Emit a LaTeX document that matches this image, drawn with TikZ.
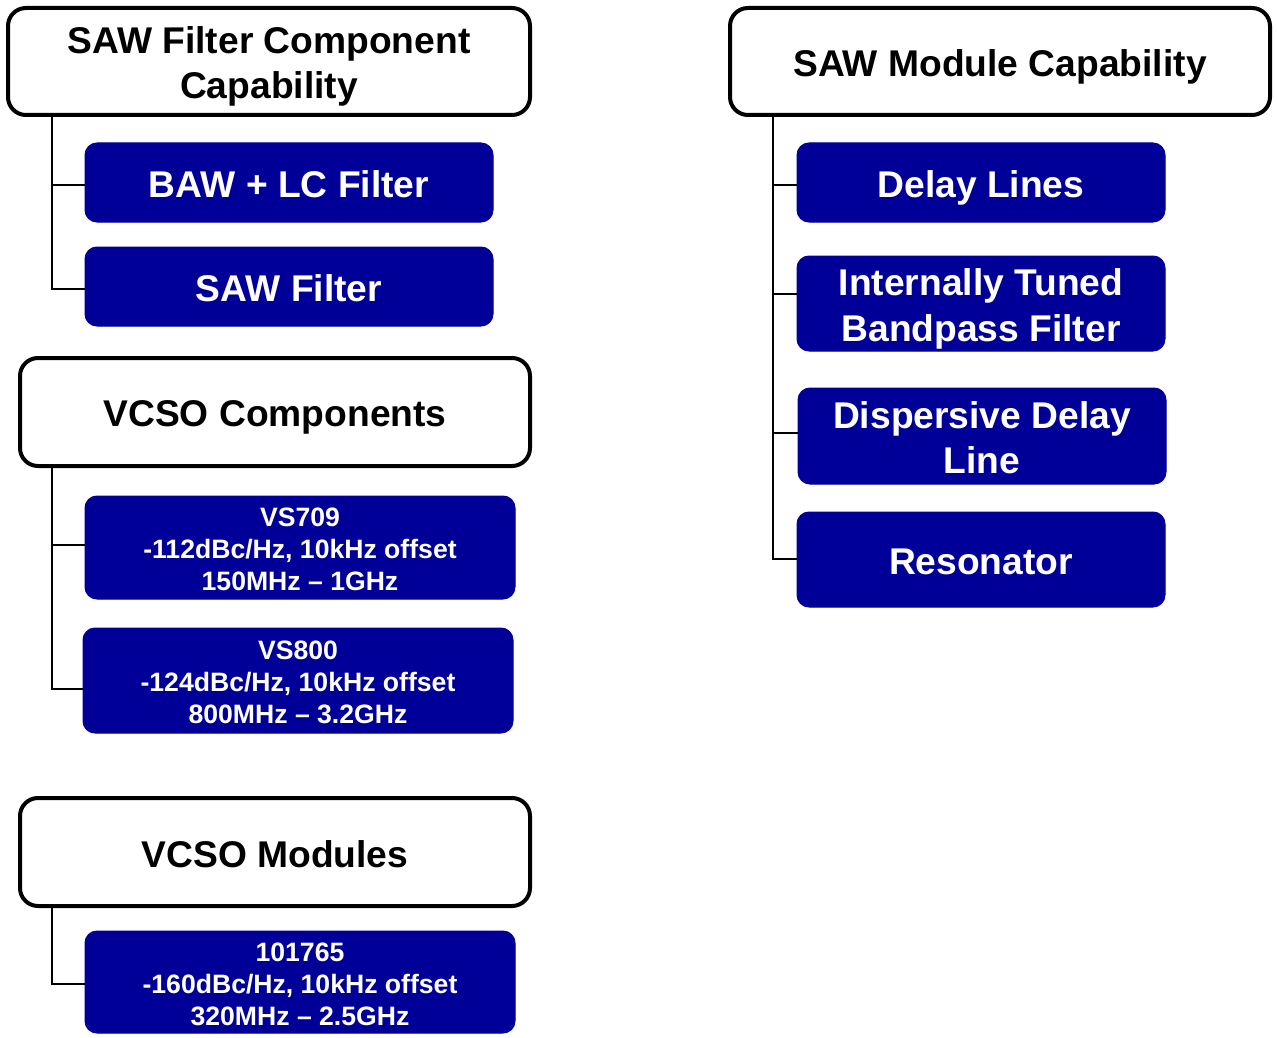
\documentclass[tikz,border=0pt]{standalone}
\usepackage{fontspec}
\setmainfont{Liberation Sans}
\definecolor{boxblue}{RGB}{0,0,153}
\newcommand{\bigstrut}{\rule[-7pt]{0pt}{44pt}}
\newcommand{\smallstrut}{\rule[-5pt]{0pt}{32pt}}
\begin{document}
\begin{tikzpicture}[x=1pt,y=-1pt,
  hdr/.style={draw=black, line width=4pt, fill=white, rounded corners=18pt,
    inner sep=0pt, align=center, font=\fontsize{37.2}{44}\selectfont\bfseries},
  itembox/.style={fill=boxblue, draw=boxblue, line width=1pt, rounded corners=12pt,
    inner sep=0pt, align=center, text=white, font=\fontsize{37.2}{44}\selectfont\bfseries},
  smallbox/.style={itembox, font=\fontsize{26.6}{32}\selectfont\bfseries},
  conn/.style={draw=black, line width=2pt}]
\useasboundingbox (0,0) rectangle (1277,1038);

% Headers
\node[hdr, minimum width=522pt, minimum height=107pt] (h1) at (269,61.5) {\bigstrut SAW Filter Component\\\bigstrut Capability};
\node[hdr, minimum width=540pt, minimum height=107pt] (h2) at (1000,61.5) {\bigstrut SAW Module Capability};
\node[hdr, minimum width=510pt, minimum height=108pt] (h3) at (275,412) {\bigstrut VCSO Components};
\node[hdr, minimum width=510pt, minimum height=108pt] (h4) at (275,852) {\bigstrut VCSO Modules};

% Left items
\node[itembox, minimum width=408pt, minimum height=79pt] (b1) at (289,182.5) {\bigstrut BAW + LC Filter};
\node[itembox, minimum width=408pt, minimum height=79pt] (b2) at (289,286.5) {\bigstrut SAW Filter};
\node[smallbox, minimum width=430pt, minimum height=103pt] (c1) at (300,547.5) {\smallstrut VS709\\\smallstrut -112dBc/Hz, 10kHz offset\\\smallstrut 150MHz -- 1GHz};
\node[smallbox, minimum width=430pt, minimum height=105pt] (c2) at (298,680.5) {\smallstrut VS800\\\smallstrut -124dBc/Hz, 10kHz offset\\\smallstrut 800MHz -- 3.2GHz};
\node[smallbox, minimum width=430pt, minimum height=102pt] (m1) at (300,982) {\smallstrut 101765\\\smallstrut -160dBc/Hz, 10kHz offset\\\smallstrut 320MHz -- 2.5GHz};

% Right items
\node[itembox, minimum width=368pt, minimum height=79pt] (r1) at (981,182.5) {\bigstrut Delay Lines};
\node[itembox, minimum width=368pt, minimum height=95pt] (r2) at (981,303.5) {\bigstrut Internally Tuned\\\bigstrut Bandpass Filter};
\node[itembox, minimum width=368pt, minimum height=96pt] (r3) at (982,436) {\bigstrut Dispersive Delay\\\bigstrut Line};
\node[itembox, minimum width=368pt, minimum height=95pt] (r4) at (981,559.5) {\bigstrut Resonator};

% Trunks and connector ends
\coordinate (t1) at (52,0);
\coordinate (t2) at (773,0);
\coordinate (eb1) at ([yshift=-2.5pt]b1.west);
\coordinate (eb2) at ([yshift=-2.5pt]b2.west);
\coordinate (ec1) at ([yshift=2.5pt]c1.west);
\coordinate (ec2) at ([yshift=-8.5pt]c2.west);
\coordinate (em1) at ([yshift=-2pt]m1.west);
\coordinate (er1) at ([yshift=-2.5pt]r1.west);
\coordinate (er2) at ([yshift=9.5pt]r2.west);
\coordinate (er3) at ([yshift=3pt]r3.west);
\coordinate (er4) at ([yshift=0.5pt]r4.west);

\draw[conn] (h1.south -| t1) |- (eb2);
\draw[conn] (t1 |- eb1) -- (eb1);

\draw[conn] (h3.south -| t1) |- (ec2);
\draw[conn] (t1 |- ec1) -- (ec1);

\draw[conn] (h4.south -| t1) |- (em1);

\draw[conn] (h2.south -| t2) |- (er4);
\draw[conn] (t2 |- er1) -- (er1);
\draw[conn] (t2 |- er2) -- (er2);
\draw[conn] (t2 |- er3) -- (er3);
\end{tikzpicture}
\end{document}
